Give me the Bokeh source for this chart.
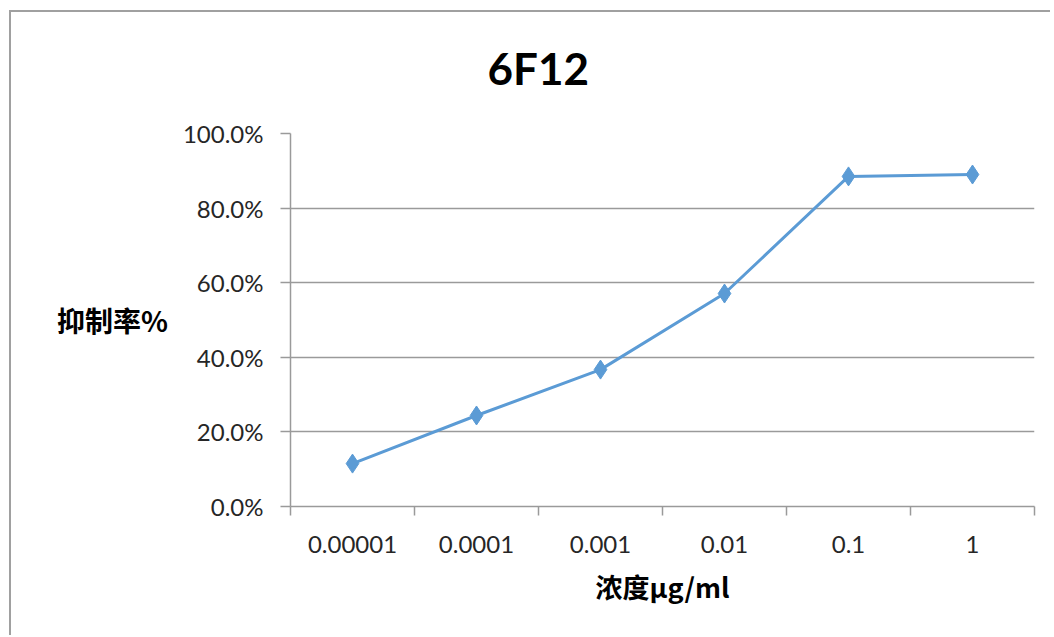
from bokeh.plotting import figure
from bokeh.models import (FixedTicker, NumeralTickFormatter, Range1d, Title,
                          ColumnDataSource)
from bokeh.embed import file_html
from bokeh.resources import INLINE

# ---- data ----
categories = ["0.00001", "0.0001", "0.001", "0.01", "0.1", "1"]
inhibition = [0.115, 0.244, 0.367, 0.571, 0.885, 0.890]
y_ticks = [0.0, 0.2, 0.4, 0.6, 0.8, 1.0]
title_text = "6F12"
x_label = "浓度μg/ml"
y_label = "抑制率%"

xs = [i + 0.5 for i in range(len(categories))]
src = ColumnDataSource(dict(x=xs, y=inhibition))

W, H = 1050, 635
FL, FR, FT, FB = 290, 1034, 133, 506   # frame edges in canvas px
p = figure(width=W, height=H, output_backend="svg", toolbar_location=None,
           x_range=Range1d(0, len(categories)), y_range=Range1d(0, 1.0),
           min_border_left=FL, min_border_right=W - FR,
           min_border_top=FT, min_border_bottom=H - FB)
p.outline_line_color = None
p.background_fill_color = "white"
p.border_fill_color = None
border_col = "#a0a0a0"
p.styles = {
    "background": (f"linear-gradient({border_col},{border_col}) 10px 10px / 100% 2px no-repeat, "
                   f"linear-gradient({border_col},{border_col}) 9px 10px / 2px 100% no-repeat, "
                   "white"),
}

grid_col = "#9a9a9a"
tick_font = "Lato"
tick_col = "#262626"
cjk_font = "Noto Sans CJK SC"

# x axis
xa = p.xaxis[0]
xa.ticker = FixedTicker(ticks=xs, minor_ticks=list(range(len(categories) + 1)))
xa.major_label_overrides = {x: c for x, c in zip(xs, categories)}
xa.major_tick_out = 0
xa.major_tick_in = 0
xa.minor_tick_out = 9
xa.minor_tick_in = 0
xa.minor_tick_line_color = grid_col
xa.minor_tick_line_width = 1.5
xa.axis_line_color = grid_col
xa.axis_line_width = 1.5
xa.major_label_text_font = tick_font
xa.major_label_text_font_size = "24px"
xa.major_label_text_color = tick_col
xa.major_label_standoff = 20
xa.axis_label = x_label
xa.axis_label_text_font = cjk_font
xa.axis_label_text_font_style = "bold"
xa.axis_label_text_font_size = "27px"
xa.axis_label_text_color = "black"
xa.axis_label_standoff = 11

# y axis
ya = p.yaxis[0]
ya.ticker = FixedTicker(ticks=y_ticks, minor_ticks=[])
ya.formatter = NumeralTickFormatter(format="0.0%")
ya.major_tick_out = 10
ya.major_tick_in = 0
ya.major_tick_line_color = grid_col
ya.major_tick_line_width = 1.5
ya.axis_line_color = grid_col
ya.axis_line_width = 1.5
ya.major_label_text_font = tick_font
ya.major_label_text_font_size = "24px"
ya.major_label_text_color = tick_col
ya.major_label_standoff = 17
ya.axis_label = y_label
ya.axis_label_orientation = "horizontal"
ya.axis_label_text_font = cjk_font
ya.axis_label_text_font_style = "bold"
ya.axis_label_text_font_size = "28px"
ya.axis_label_text_color = "black"
ya.axis_label_standoff = 12

p.xgrid.grid_line_color = None
p.ygrid.ticker = FixedTicker(ticks=y_ticks[1:])
p.ygrid.grid_line_color = grid_col
p.ygrid.grid_line_width = 1.5

# data
p.line("x", "y", source=src, line_color="#5b9bd5", line_width=3)
p.scatter("x", "y", source=src, marker="diamond", size=19,
          fill_color="#5b9bd5", line_color="#5b9bd5")

# title (centered on the whole chart area, left of the plot-area centre)
p.add_layout(Title(text=title_text, align="left", offset=197, standoff=77,
                   vertical_align="middle",
                   text_font="Lato", text_font_style="bold",
                   text_font_size="44px", text_color="black"), "above")

open("out.html", "w").write(file_html(p, INLINE))
